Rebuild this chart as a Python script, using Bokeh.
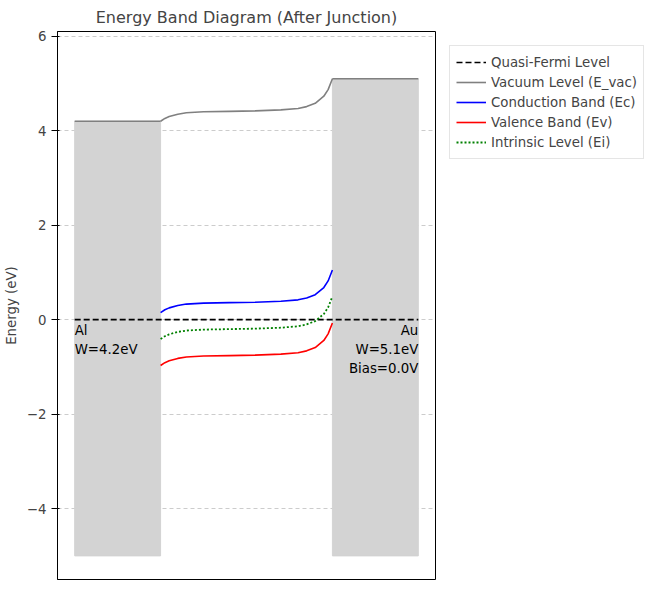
from bokeh.plotting import figure
from bokeh.models import Legend, LegendItem, FixedTicker, CustomJSTickFormatter, Range1d
from bokeh.core.properties import value
from bokeh.embed import file_html
from bokeh.resources import INLINE

# regions (x in arbitrary position units)
al_x = [0.0, 1.0]
au_x = [3.0, 4.0]
al_work = 4.2
au_work = 5.1
metal_bottom = -5.0

# semiconductor curves
sx = [1.0, 1.05, 1.1, 1.2, 1.3, 1.5, 1.8, 2.1, 2.4, 2.6, 2.7, 2.8, 2.9, 2.95, 3.0]
ec = [0.15, 0.21, 0.25, 0.30, 0.33, 0.35, 0.36, 0.37, 0.39, 0.42, 0.46, 0.53, 0.68, 0.82, 1.05]
ev = [-0.97, -0.91, -0.87, -0.82, -0.79, -0.77, -0.76, -0.75, -0.73, -0.70, -0.66, -0.59, -0.44, -0.30, -0.07]
ei = [-0.41, -0.35, -0.31, -0.26, -0.23, -0.21, -0.20, -0.19, -0.17, -0.14, -0.10, -0.03, 0.12, 0.26, 0.49]
evac = [4.20, 4.26, 4.30, 4.35, 4.38, 4.40, 4.41, 4.42, 4.44, 4.47, 4.51, 4.58, 4.73, 4.87, 5.10]

p = figure(frame_width=378, frame_height=548, output_backend="svg", toolbar_location=None,
           title="Energy Band Diagram (After Junction)",
           x_range=Range1d(-0.2, 4.2), y_range=Range1d(-5.5, 6.1),
           min_border_left=52, min_border_bottom=2, min_border_top=4)
p.title.align = "center"
p.title.text_font = "DejaVu Sans"
p.title.text_font_size = "12pt"
p.title.text_font_style = "normal"
p.xaxis.visible = False
p.xgrid.visible = False
p.ygrid.grid_line_dash = "4 3"
p.ygrid.grid_line_color = "#cccccc"
p.yaxis.ticker = FixedTicker(ticks=[-4, -2, 0, 2, 4, 6])
p.yaxis.minor_tick_line_color = None
p.yaxis.formatter = CustomJSTickFormatter(code="return String(tick).replace('-', '\u2212');")
p.yaxis.axis_label = "Energy (eV)"
p.yaxis.axis_label_text_font_style = "normal"
p.yaxis.axis_label_text_font = "DejaVu Sans"
p.yaxis.axis_label_text_font_size = "10pt"
p.yaxis.major_label_text_font = "DejaVu Sans"
p.yaxis.major_label_text_font_size = "10pt"
p.outline_line_color = "black"

p.quad(left=[al_x[0]], right=[al_x[1]], bottom=[metal_bottom], top=[al_work], color="lightgray")
p.quad(left=[au_x[0]], right=[au_x[1]], bottom=[metal_bottom], top=[au_work], color="lightgray")

r_f = p.line([al_x[0], au_x[1]], [0, 0], color="black", line_width=1.6, line_dash="6 3")
r_v = p.line(al_x, [al_work, al_work], color="gray", line_width=1.6)
p.line(sx, evac, color="gray", line_width=1.6)
p.line(au_x, [au_work, au_work], color="gray", line_width=1.6)
r_c = p.line(sx, ec, color="blue", line_width=1.6)
r_e = p.line(sx, ev, color="red", line_width=1.6)
r_i = p.line(sx, ei, color="green", line_width=1.8, line_dash="2 2")

p.text(x=[0.0, 0.0], y=[-0.08, -0.48], text=["Al", "W=4.2eV"], text_align="left",
       text_baseline="top", text_font=value("DejaVu Sans"), text_font_size="10pt")
p.text(x=[4.0, 4.0, 4.0], y=[-0.08, -0.48, -0.88], text=["Au", "W=5.1eV", "Bias=0.0V"],
       text_align="right", text_baseline="top", text_font=value("DejaVu Sans"), text_font_size="10pt")

legend = Legend(items=[
    LegendItem(label="Quasi-Fermi Level", renderers=[r_f]),
    LegendItem(label="Vacuum Level (E_vac)", renderers=[r_v]),
    LegendItem(label="Conduction Band (Ec)", renderers=[r_c]),
    LegendItem(label="Valence Band (Ev)", renderers=[r_e]),
    LegendItem(label="Intrinsic Level (Ei)", renderers=[r_i]),
], location="top_left", label_text_font="DejaVu Sans", label_text_font_size="10pt",
    border_line_color="#cccccc", spacing=0, padding=6, margin=14, glyph_width=30, label_height=16)
p.add_layout(legend, "right")
p.min_border_right = 10

open("out.html", "w").write(file_html(p, INLINE))
